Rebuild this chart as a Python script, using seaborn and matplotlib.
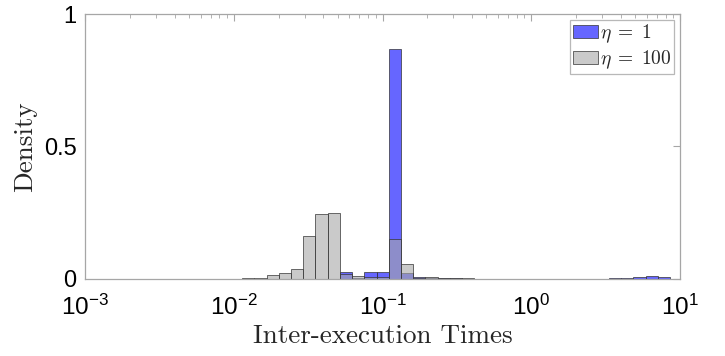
import numpy as np
import pandas as pd
import matplotlib
matplotlib.use("Agg")
import matplotlib.pyplot as plt
import seaborn as sns
from matplotlib.ticker import LogLocator, FixedLocator, NullFormatter

# ---- histogram bins (log10 units) ----
bin_start = -1.944
bin_width = 0.0822
n_bins = 35
log_edges = [bin_start + i * bin_width for i in range(n_bins + 1)]

# ---- data: probability per bin ----
eta1_heights = [0, 0, 0, 0, 0, 0, 0, 0, 0.025, 0.003,
                0.024, 0.024, 0.867, 0.021, 0.005, 0.001, 0.001, 0.001, 0, 0,
                0, 0, 0, 0, 0, 0, 0, 0, 0, 0,
                0.001, 0.002, 0.005, 0.008, 0.006]
eta100_heights = [0.002, 0.003, 0.013, 0.020, 0.035, 0.160, 0.242, 0.247, 0.018, 0.009,
                  0.004, 0.004, 0.148, 0.053, 0.003, 0.004, 0.002, 0.002, 0.001, 0,
                  0, 0, 0, 0, 0, 0, 0, 0, 0, 0,
                  0, 0, 0, 0, 0]
series_labels = [r"$\eta\;=\;1$", r"$\eta\;=\;100$"]
x_ticks = [1e-3, 1e-2, 1e-1, 1e0, 1e1]
x_ticklabels = [r"$\mathsf{10^{-3}}$", r"$\mathsf{10^{-2}}$", r"$\mathsf{10^{-1}}$",
                r"$\mathsf{10^{0}}$", r"$\mathsf{10^{1}}$"]
y_ticks = [0, 0.5, 1]
y_ticklabels = ["0", "0.5", "1"]

sns.set_style("white")
plt.rcParams["font.family"] = ["Liberation Sans", "DejaVu Sans"]
plt.rcParams["mathtext.fontset"] = "custom"
plt.rcParams["mathtext.rm"] = "cmr10"
plt.rcParams["mathtext.it"] = "cmmi10"
plt.rcParams["mathtext.sf"] = "Liberation Sans"
plt.rcParams["mathtext.fallback"] = "cm"

le = np.array(log_edges)
centers = 10 ** ((le[:-1] + le[1:]) / 2)
df1 = pd.DataFrame({"x": centers, "w": eta1_heights})
df2 = pd.DataFrame({"x": centers, "w": eta100_heights})

fig = plt.figure(figsize=(7.25, 3.56), dpi=100)
ax = fig.add_axes([85 / 725, 1 - 278.5 / 356, 595 / 725, 264.5 / 356])

edge_col = (0.2, 0.2, 0.2)
sns.histplot(data=df1, x="x", weights="w", bins=log_edges, log_scale=True,
             stat="count", color=(0, 0, 1), alpha=0.6, edgecolor=edge_col,
             linewidth=0.5, ax=ax, label=series_labels[0])
sns.histplot(data=df2, x="x", weights="w", bins=log_edges, log_scale=True,
             stat="count", color=(0.66, 0.66, 0.66), alpha=0.6, edgecolor=edge_col,
             linewidth=0.5, ax=ax, label=series_labels[1])

ax.set_xscale("log")
ax.set_xlim(1e-3, 1e1)
ax.set_ylim(0, 1)
ax.xaxis.set_major_locator(FixedLocator(x_ticks))
ax.set_xticklabels(x_ticklabels)
ax.xaxis.set_minor_locator(LogLocator(base=10, subs=np.arange(2, 10)))
ax.xaxis.set_minor_formatter(NullFormatter())
ax.set_yticks(y_ticks)
ax.set_yticklabels(y_ticklabels)

axcol = "#a6a6a6"
for s in ax.spines.values():
    s.set_color(axcol)
    s.set_linewidth(0.9)
ax.tick_params(axis="both", which="both", direction="in", top=True, right=True,
               color=axcol, labelcolor="black")
ax.tick_params(axis="y", which="major", length=5, labelsize=17, pad=6)
ax.tick_params(axis="x", which="major", length=5, labelsize=17.5, pad=12)
ax.tick_params(axis="x", which="minor", length=3)

ax.set_xlabel("Inter-execution Times", fontfamily="cmr10", fontsize=19.5, labelpad=3)
ax.set_ylabel("Density", fontfamily="cmr10", fontsize=19.5, labelpad=5)

leg = ax.legend(loc="upper right", fontsize=14, frameon=True, fancybox=False,
                edgecolor=axcol, handlelength=1.28, handleheight=0.67,
                handletextpad=0.1, borderpad=0.15, labelspacing=0.15,
                borderaxespad=0.3)
leg.get_frame().set_linewidth(0.9)

fig.savefig("out.png", dpi=100)
